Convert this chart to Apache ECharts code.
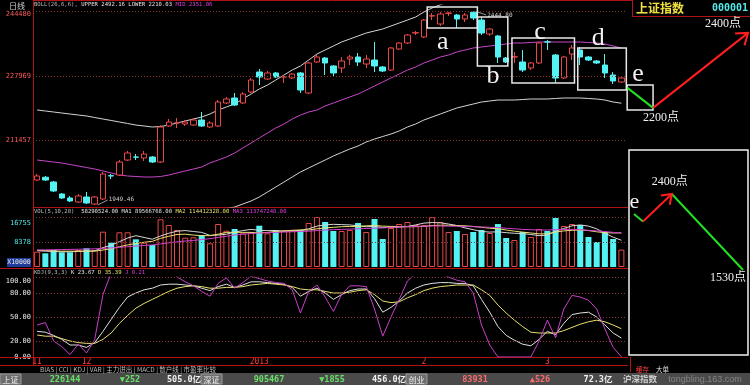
<!DOCTYPE html>
<html>
<head>
<meta charset="utf-8">
<script src="https://cdn.jsdelivr.net/npm/echarts@6.0.0/dist/echarts.min.js"></script>
<style>
html,body{margin:0;padding:0;background:#000;overflow:hidden;}
#main{width:750px;height:385px;}
</style>
</head>
<body>
<div id="main"></div>
<script>
// ================= DATA =================
const dates = [
'2012-11-23','2012-11-26','2012-11-27','2012-11-28','2012-11-29','2012-11-30',
'2012-12-03','2012-12-04','2012-12-05','2012-12-06','2012-12-07',
'2012-12-10','2012-12-11','2012-12-12','2012-12-13','2012-12-14',
'2012-12-17','2012-12-18','2012-12-19','2012-12-20','2012-12-21',
'2012-12-24','2012-12-25','2012-12-26','2012-12-27','2012-12-28','2012-12-31',
'2013-01-04','2013-01-07','2013-01-08','2013-01-09','2013-01-10','2013-01-11',
'2013-01-14','2013-01-15','2013-01-16','2013-01-17','2013-01-18',
'2013-01-21','2013-01-22','2013-01-23','2013-01-24','2013-01-25',
'2013-01-28','2013-01-29','2013-01-30','2013-01-31',
'2013-02-01','2013-02-04','2013-02-05','2013-02-06','2013-02-07','2013-02-08',
'2013-02-18','2013-02-19','2013-02-20','2013-02-21','2013-02-22',
'2013-02-25','2013-02-26','2013-02-27','2013-02-28',
'2013-03-01','2013-03-04','2013-03-05','2013-03-06','2013-03-07','2013-03-08',
'2013-03-11','2013-03-12','2013-03-13','2013-03-14'
];
// [open, close, low, high]
const candles = [
[2013.4,2023.7,2010.9,2028.8],[2020.5,2013.4,2010.9,2023.7],[2008.3,1985.3,1982.7,2010.9],[1977.6,1967.4,1964.8,1980.2],
[1967.4,1959.7,1957.1,1972.5],[1957.1,1972.5,1954.6,1977.6],[1969.9,1954.6,1952.0,1982.7],[1952.0,1969.9,1949.46,1972.5],
[1964.8,2028.8,1962.2,2033.9],[2024.5,2023.7,2016.0,2028.8],[2026.2,2059.5,2023.7,2064.6],[2064.6,2082.6,2062.1,2087.7],
[2072.3,2071.8,2064.6,2080.0],[2069.8,2080.0,2062.1,2087.7],[2072.3,2059.5,2057.0,2074.9],[2059.5,2149.1,2057.0,2154.2],
[2151.7,2161.9,2149.1,2169.6],[2159.4,2160.0,2146.6,2172.2],[2156.8,2161.9,2151.7,2167.0],[2154.2,2167.0,2151.7,2172.2],
[2167.0,2151.7,2149.1,2187.5],[2149.1,2159.4,2146.6,2164.5],[2151.7,2213.1,2149.1,2218.2],[2210.6,2220.8,2208.0,2226.0],
[2223.4,2205.4,2202.8,2236.2],[2210.6,2233.6,2208.0,2238.7],[2238.7,2269.4,2236.2,2274.6],[2289.9,2277.1,2256.6,2297.6],
[2272.0,2287.4,2269.4,2292.5],[2287.4,2277.1,2274.6,2289.9],[2277.1,2277.6,2261.8,2282.2],[2274.6,2284.8,2272.0,2287.4],
[2287.4,2243.8,2236.2,2289.9],[2236.2,2313.0,2233.6,2315.5],[2315.5,2328.3,2313.0,2333.4],[2325.8,2313.0,2282.2,2328.3],
[2305.3,2287.4,2277.1,2307.8],[2300.2,2318.1,2287.4,2328.3],[2323.2,2328.3,2307.8,2333.4],[2328.3,2315.5,2305.3,2338.6],
[2310.4,2323.2,2300.2,2333.4],[2320.6,2305.3,2289.9,2366.7],[2302.7,2292.5,2289.9,2305.3],[2295.0,2351.4,2292.5,2353.9],
[2348.8,2364.2,2346.2,2366.7],[2364.2,2384.6,2361.6,2387.2],[2389.8,2390.5,2384.6,2394.9],[2379.5,2423.0,2377.0,2425.6],
[2433.3,2434.0,2423.0,2441.0],[2412.8,2438.4,2407.7,2443.5],[2440.0,2441.0,2433.3,2444.0],[2435.8,2425.6,2402.6,2438.4],
[2425.6,2435.8,2417.9,2441.0],[2443.0,2428.2,2423.0,2444.8],[2423.0,2389.8,2384.6,2430.7],[2387.2,2400.0,2382.1,2402.6],
[2382.1,2328.3,2313.0,2384.6],[2325.8,2315.5,2313.0,2328.3],[2328.3,2329.0,2313.0,2341.1],[2315.5,2295.0,2289.9,2346.2],
[2300.2,2313.0,2295.0,2315.5],[2313.0,2364.2,2310.4,2366.7],[2367.0,2366.7,2346.2,2371.8],[2333.4,2274.6,2261.8,2336.0],
[2274.6,2328.3,2272.0,2330.9],[2336.0,2351.4,2320.6,2359.0],[2346.2,2328.3,2307.8,2353.9],[2328.3,2320.6,2318.1,2330.9],
[2318.1,2313.0,2310.4,2320.6],[2307.8,2287.4,2274.6,2336.0],[2282.2,2266.9,2259.2,2289.9],[2264.3,2274.6,2261.8,2277.1]
];
const bollUpper = [2192.6,2190.1,2187.5,2184.9,2182.4,2179.8,2177.3,2173.4,2169.6,2165.8,2161.9,2158.1,2154.2,2151.7,2149.1,2150.4,
2154.2,2159.4,2164.5,2169.6,2174.7,2182.4,2192.6,2200.3,2208.0,2220.8,2233.6,2246.4,2256.6,2269.4,2282.2,2295.0,2305.3,2320.6,
2336.0,2346.2,2356.5,2366.7,2374.4,2382.1,2389.8,2394.9,2400.0,2407.7,2415.3,2423.0,2430.7,2443.5,2453.8,2462,2470,2476,2481,
2486,2490,2493,2496,2497,2498,2499,2499,2500,2500,2500,2499,2498,2497,2496,2495,2494,2493,2492.16];
const bollMid = [2064.6,2062.1,2059.5,2057.0,2053.1,2049.3,2045.4,2041.6,2036.5,2031.4,2026.2,2023.7,2022.4,2021.1,2021.1,2022.4,
2026.2,2031.4,2036.5,2041.6,2046.7,2057.0,2064.6,2072.3,2082.6,2095.4,2108.2,2121.0,2133.8,2146.6,2156.8,2169.6,2179.8,2187.5,
2192.6,2202.9,2210.6,2218.2,2225.9,2233.6,2243.8,2254.1,2264.3,2274.6,2284.8,2295.0,2302.7,2313.0,2320.6,2328.3,2333.4,2341.1,
2346.2,2351.4,2353.9,2356.5,2359.0,2361.6,2364.2,2364.2,2365.4,2366.7,2366.7,2366.7,2366.7,2366.7,2366.7,2365.4,2364.2,2361.6,
2356.5,2351.06];
const bollLower = [1937,1935,1932,1929,1925,1921,1917,1912,1905,1899,1893,1890,1889,1890,1892,1894,1898,1903,1908,1913,1918,1926,
1934,1940,1944.3,1952.0,1959.7,1969.9,1982.7,1995.5,2008.3,2021.1,2033.9,2044.2,2054.4,2064.6,2074.9,2083.9,2092.8,2100.5,2110.8,
2118.4,2124.8,2131.2,2138.9,2149.1,2156.8,2167.0,2174.7,2182.4,2190.1,2197.8,2202.9,2208.0,2213.1,2215.7,2218.2,2218.2,2218.2,
2219.5,2220.8,2220.8,2220.8,2222.1,2223.4,2223.4,2223.4,2222.1,2220.8,2218.2,2213.1,2210.03];
// volume, x10000
const volumes = [5127,4591,5697,4926,4926,5697,6266,5697,11829,8143,11628,11628,9282,8143,7372,15984,14074,12399,9818,9952,
10723,7942,14409,12164,12734,11293,11628,13840,11293,12399,12164,12164,12399,14744,16755,15080,12064,12064,12399,14744,11729,
16085,9383,13069,14409,15080,14074,14074,16700,15080,11729,12064,11058,11729,12399,11393,14409,9718,9048,11729,10053,12734,
12064,16420,13739,14409,14074,10053,8378,11729,9383,5829];
const volMa5 = [5470,5300,5200,5100,5100,5200,5300,5400,6500,7300,8500,9700,10500,9900,9300,10400,11300,12000,12200,11900,
11600,10600,10700,11000,11700,12200,12600,12300,12200,12200,12000,12100,12300,12800,13700,14100,14300,14200,14100,13800,13500,
13600,13200,13300,13400,13600,14100,14700,14900,14800,14400,13900,13100,12500,11900,11700,11800,11500,11300,11200,10900,10500,
10700,12000,12900,13800,14100,13700,12800,11300,10000,8957];
const volMa10 = [5600,5500,5400,5300,5300,5300,5300,5300,5700,6100,6800,7400,7900,8300,8600,9600,10300,10900,11000,10700,10500,
10500,11000,11600,11600,11600,11600,11400,11600,11900,12100,12300,12400,12400,12800,13100,13300,13500,13600,13600,13800,13900,
13700,13600,13500,13500,13500,13600,13900,14000,14000,13900,13800,13600,13300,13000,12800,12400,12000,11700,11400,11100,11100,
11700,12100,12300,12400,12200,11800,11500,11400,11441];
const volMa20 = [5700,5750,5800,5850,5900,5950,6000,6100,6250,6400,6600,6800,7000,7200,7400,7750,8100,8400,8700,8900,9200,9500,
9900,10300,10700,11000,11200,11400,11500,11600,11700,11800,11900,12000,12200,12400,12500,12600,12700,12800,12900,13000,13100,
13300,13400,13500,13600,13700,13750,13750,13700,13650,13600,13500,13400,13300,13200,13000,12800,12600,12500,12400,12400,12500,
12600,12600,12500,12300,12100,11900,11600,11375];
const kdjK = [32,31,27,22,15,15,12,18,32,47,62,75,80,84,86,90,91,91,90,89,86,83,88,91,87,90,94,94,93,92,91,87,76,82,86,80,72,78,
83,85,85,73,56,62,70,80,86,90,92,93,93,92,92,89,72,56,38,27,21,16,14,22,32,28,42,53,55,56,50,40,30,23.67];
const kdjD = [27.5,26,26,23,20,18,17,17,22,30,42,52,61,67,72,77,82,86,88,89,88,86,86,87,87,88,90,91,92,91,90,88,85,84,84,82,80,
80,81,83,84,78,70,68,69,74,78,83,86,88,89,90,90,90,84,77,65,55,46,38,31,30,30,30,33,37,41,44,46,44,40,35.39];
const kdjJ = [40,43,20,13,3,16,5,22,78,105,115,120,118,115,112,118,110,100,94,89,82,76,92,99,86,93,101,98,95,93,92,84,55,82,90,
75,57,78,89,89,88,60,26,50,72,95,104,108,106,104,100,96,94,80,40,15,0,0,0,0,0,20,46,24,60,77,75,71,60,35,12,0.21];

const priceTickLabels = ['211457','227969','244480'];
const volTickLabels = ['8378','16755'];
const kdjTickLabels = ['0.00','20.00','50.00','80.00','100.00'];
const monthTickIdx = [0, 6, 27, 47, 62];
const monthTickText = ['11', '12', '2013', '2', '3'];

// hand-drawn forecast notes: [trading-day position, price]
const eLegDown = [[71.7, 2250], [74.85, 2198]];
const eLegUp = [[74.85, 2198], [86.4, 2390]];
const eBox = [[71.7, 2256.6], [74.85, 2192.6]];
// inset schematic: [step, price]
const insetPath = [[0, 2170], [1, 2086], [4.2, 2400], [12.1, 1530]];
// boxes a-d: [label, fromIdx, toIdx, highPrice, lowPrice, labelIdx, labelPrice]
const boxes = [
  ['a', 47.4, 53.5, 2456.3, 2402.6, 49.3, 2366.7],
  ['b', 53.5, 57.2, 2430.7, 2305.3, 55.4, 2279.7],
  ['c', 57.7, 65.3, 2376.9, 2261.8, 61.1, 2392.3],
  ['d', 65.7, 71.6, 2351.4, 2243.8, 68.2, 2375.7]
];

// ================= CHART =================
const chart = echarts.init(document.getElementById('main'), null, {renderer: 'canvas', width: 750, height: 385});
const mono = "'DejaVu Sans Mono', monospace";
const serif = "'Liberation Serif','DejaVu Serif','Noto Sans CJK SC',serif";
const cjk = "'Noto Sans CJK SC', sans-serif";
const UP = '#e84848', DOWN = '#54f2f2', FRAME = '#b01414', GRIDDOT = '#8a3434';
const dot = {color: GRIDDOT, type: [1, 2], width: 1};

const priceTickValues = priceTickLabels.map(s => Number(s) / 100);
const volTickValues = volTickLabels.map(Number);
const kdjTickValues = kdjTickLabels.map(Number);
const PMIN = 1944.32, PMAX = 2461.44;

function mkLine(vals) {
  return {silent: true, symbol: ['none', 'none'], label: {show: false}, lineStyle: dot,
          emphasis: {disabled: true}, data: vals.map(v => ({yAxis: v}))};
}
function lineSeries(xi, data, color, extra) {
  return Object.assign({type: 'line', xAxisIndex: xi, yAxisIndex: xi, data, symbol: 'none', silent: true,
    lineStyle: {color, width: 1}, z: 3}, extra || {});
}

const volData = volumes.map((v, i) => {
  const up = candles[i][1] >= candles[i][0];
  return {value: v, itemStyle: up ? {color: '#000', borderColor: UP, borderWidth: 1} : {color: DOWN, borderWidth: 0}};
});

const grids = [
  {left: 33, width: 592.5, top: 5, height: 202},
  {left: 33, width: 592.5, top: 217, height: 50},
  {left: 33, width: 592.5, top: 277, height: 80},
  {left: 625.5, width: 124.5, top: 5, height: 202},
  {left: 629, width: 119, top: 150.3, height: 218.4}
];

const labelBase = {fontFamily: mono, margin: 2};
const option = {
  backgroundColor: '#000',
  animation: false,
  grid: grids,
  xAxis: [
    {type: 'category', gridIndex: 0, data: dates, show: false},
    {type: 'category', gridIndex: 1, data: dates, show: false},
    {type: 'category', gridIndex: 2, data: dates, axisLine: {show: false}, axisTick: {show: false},
      axisLabel: {interval: (i) => monthTickIdx.indexOf(i) >= 0,
        formatter: (v, i) => { const k = monthTickIdx.indexOf(i); return k >= 0 ? monthTickText[k] : ''; },
        color: (v, i) => (monthTickIdx.indexOf(i) === 2 ? '#c8c8c8' : '#ff3c3c'),
        fontSize: 8, fontFamily: mono, margin: 1}},
    {type: 'value', gridIndex: 3, min: 71.5, max: 86.63, show: false},
    {type: 'value', gridIndex: 4, min: -0.55, max: 12.65, show: false}
  ],
  yAxis: [
    {type: 'value', gridIndex: 0, min: PMIN, max: PMAX, splitLine: {show: false}, axisLine: {show: false}, axisTick: {show: false},
      axisLabel: Object.assign({}, labelBase, {customValues: priceTickValues, fontSize: 7, color: '#ff5a5a',
        formatter: (v) => { const s = String(Math.round(v * 100)); return v >= Math.max(...priceTickValues) - 0.01 ? '{t|' + s + '}' : s; },
        rich: {t: {padding: [6, 0, 0, 0], fontSize: 7, fontFamily: mono, color: '#ff5a5a'}}})},
    {type: 'value', gridIndex: 1, min: 0, max: Math.max(...volTickValues), splitLine: {show: false}, axisLine: {show: false}, axisTick: {show: false},
      axisLabel: Object.assign({}, labelBase, {customValues: volTickValues, fontSize: 7, color: '#54e8e8',
        formatter: (v) => { const s = String(v); return v >= Math.max(...volTickValues) ? '{t|' + s + '}' : s; },
        rich: {t: {padding: [12, 0, 0, 0], fontSize: 7, fontFamily: mono, color: '#54e8e8'}}})},
    {type: 'value', gridIndex: 2, min: 0, max: 100, splitLine: {show: false}, axisLine: {show: false}, axisTick: {show: false},
      axisLabel: Object.assign({}, labelBase, {customValues: kdjTickValues, fontSize: 7, color: '#e8e8e8',
        formatter: (v) => { const s = v.toFixed(2); return v >= 100 ? '{t|' + s + '}' : s; },
        rich: {t: {padding: [8, 0, 0, 0], fontSize: 7, fontFamily: mono, color: '#e8e8e8'}}})},
    {type: 'value', gridIndex: 3, min: PMIN, max: PMAX, show: false},
    {type: 'value', gridIndex: 4, min: 400, max: 2900, show: false}
  ],
  series: [
    {type: 'candlestick', xAxisIndex: 0, yAxisIndex: 0, data: candles, barWidth: 6, silent: true, z: 4,
      itemStyle: {color: '#000', color0: DOWN, borderColor: UP, borderColor0: DOWN, borderWidth: 1},
      markLine: mkLine(priceTickValues)},
    lineSeries(0, bollUpper, '#d4d4d4'),
    lineSeries(0, bollMid, '#c848c8'),
    lineSeries(0, bollLower, '#d4d4d4'),
    {type: 'bar', xAxisIndex: 1, yAxisIndex: 1, data: volData, barWidth: 6, silent: true, z: 2, markLine: mkLine(volTickValues)},
    lineSeries(1, volMa5, '#d8d8d8'),
    lineSeries(1, volMa10, '#e8e070'),
    lineSeries(1, volMa20, '#d040d0'),
    lineSeries(2, kdjK, '#e0e0e0', {markLine: mkLine([20, 50, 80, 100])}),
    lineSeries(2, kdjD, '#e8e070'),
    lineSeries(2, kdjJ, '#c840c8'),
    lineSeries(3, eLegDown, '#22e022', {lineStyle: {color: '#22e022', width: 2}, z: 6,
      markArea: {silent: true, itemStyle: {color: 'rgba(0,0,0,0)', borderColor: '#e8e8e8', borderWidth: 1.5},
        data: [[{coord: eBox[0]}, {coord: eBox[1]}]]}}),
    lineSeries(3, eLegUp, '#ff1e1e', {lineStyle: {color: '#ff1e1e', width: 2}, z: 6}),
    lineSeries(4, insetPath.slice(0, 2), '#22e022', {lineStyle: {color: '#22e022', width: 2}, z: 6}),
    lineSeries(4, insetPath.slice(1, 3), '#ff1e1e', {lineStyle: {color: '#ff1e1e', width: 2}, z: 6}),
    lineSeries(4, insetPath.slice(2, 4), '#22e022', {lineStyle: {color: '#22e022', width: 2}, z: 6})
  ]
};
chart.setOption(option);

// ================= ANNOTATIONS / FRAME =================
const P = (k, pt) => chart.convertToPixel({xAxisIndex: k, yAxisIndex: k}, pt);
const c0 = P(0, [0, 2000])[0], c71 = P(0, [71, 2000])[0];
const step = (c71 - c0) / 71;
const xAt = (i) => c0 + i * step;
const yAt = (p) => P(0, [0, p])[1];

function ln(x1, y1, x2, y2, color, w, z) {
  return {type: 'line', silent: true, z: z || 1, shape: {x1, y1, x2, y2}, style: {stroke: color, lineWidth: w || 1}};
}
function txt(x, y, text, fill, font, align, z, extra) {
  return {type: 'text', silent: true, z: z || 10, x, y,
    style: Object.assign({text, fill, font, align: align || 'left', verticalAlign: 'middle'}, extra || {})};
}
function arrowHead(tip, from, len, spread) {
  const a = Math.atan2(from[1] - tip[1], from[0] - tip[0]);
  return [[tip[0] + len * Math.cos(a + spread), tip[1] + len * Math.sin(a + spread)], tip,
          [tip[0] + len * Math.cos(a - spread), tip[1] + len * Math.sin(a - spread)]];
}

const els = [];
// frame lines
els.push(ln(33.5, 0, 33.5, 366, FRAME));
els.push(ln(33, 0.5, 632, 0.5, FRAME));
els.push(ln(33, 207.5, 628, 207.5, FRAME));
els.push(ln(0, 268.5, 628, 268.5, FRAME));
els.push(ln(0, 357.5, 628, 357.5, FRAME));
els.push(ln(0, 365.5, 628, 365.5, FRAME));
els.push(ln(630.5, 357, 630.5, 372, FRAME));
// header box (top right)
els.push(ln(632.5, 0, 632.5, 16, FRAME));
els.push(ln(632, 16.5, 750, 16.5, FRAME));
els.push(txt(636, 8, '上证指数', '#f0e040', "bold 12px " + cjk));
els.push(txt(748, 8.5, '000001', '#54e8e8', "bold 10px " + mono, 'right'));
// left panel
els.push(txt(17, 5.5, '日线', '#d0d0d0', "8px " + cjk, 'center'));
els.push({type: 'rect', silent: true, z: 9, shape: {x: 7, y: 258, width: 24, height: 9}, style: {fill: '#1e3c9a'}});
els.push(txt(19, 262.5, 'X10000', '#e8e8e8', "6.5px " + mono, 'center'));
// panel titles
const tRich = {
  g: {fill: '#bdbdbd', font: "5.6px " + mono},
  w: {fill: '#e4e4e4', font: "5.6px " + mono},
  y: {fill: '#e8e070', font: "5.6px " + mono},
  m: {fill: '#e040e0', font: "5.6px " + mono}
};
els.push(txt(34, 4.5, '{g|BOLL(26,6,6),} {w|UPPER 2492.16} {w|LOWER 2210.03} {m|MID 2351.06}', '#ccc', "5.6px " + mono, 'left', 10, {rich: tRich}));
els.push(txt(34, 212, '{g|VOL(5,10,20)}  {w|58290524.00} {w|MA1 89566768.00} {y|MA2 114412328.00} {m|MA3 113747248.00}', '#ccc', "5.6px " + mono, 'left', 10, {rich: tRich}));
els.push(txt(34, 272.5, '{g|KDJ(9,3,3)} {w|K 23.67} {y|D 35.39} {m|J 0.21}', '#ccc', "5.6px " + mono, 'left', 10, {rich: tRich}));

// extreme price labels with leader lines
const hi = P(0, [53, 2444.80]);
els.push(ln(hi[0] + 3, hi[1], hi[0] + 13, hi[1] + 3.5, '#9a9a9a', 1, 8));
els.push(txt(hi[0] + 14, hi[1] + 3.5, '2444.80', '#d0d0d0', "6px " + mono));
const lo = P(0, [7, 1949.46]);
els.push(ln(lo[0] + 3, lo[1], lo[0] + 13, lo[1] - 5, '#9a9a9a', 1, 8));
els.push(txt(lo[0] + 14, lo[1] - 5.5, '1949.46', '#d0d0d0', "6px " + mono));

// boxes a-d
boxes.forEach(b => {
  const x1 = xAt(b[1]), x2 = xAt(b[2]), y1 = yAt(b[3]), y2 = yAt(b[4]);
  els.push({type: 'rect', silent: true, z: 12, shape: {x: x1, y: y1, width: x2 - x1, height: y2 - y1},
    style: {fill: null, stroke: '#e8e8e8', lineWidth: 1.5}});
  els.push(txt(xAt(b[5]), yAt(b[6]), b[0], '#f2f2f2', "26px " + serif, 'center', 12));
});
// e label
const eL = P(3, [73.02, 2284.8]);
els.push(txt(eL[0], eL[1], 'e', '#f2f2f2', "26px " + serif, 'center', 12));
// main forecast labels & arrow head
const pBot = P(3, eLegDown[1]);
els.push(txt(pBot[0] + 8, pBot[1] + 9.5, '2200点', '#f0f0f0', "12px " + serif, 'center', 12));
const tip = P(3, eLegUp[1]), tail = P(3, eLegUp[0]);
els.push({type: 'polyline', silent: true, z: 12, shape: {points: arrowHead(tip, tail, 13, 0.62)},
  style: {stroke: '#ff1e1e', lineWidth: 2, fill: null}});
els.push(txt(tip[0] - 25, tip[1] - 9.5, '2400点', '#f0f0f0', "12px " + serif, 'center', 12));

// inset box
els.push({type: 'rect', silent: true, z: 0, shape: {x: 629, y: 150, width: 119, height: 205},
  style: {fill: '#000', stroke: '#f0f0f0', lineWidth: 1.5}});
const iS = P(4, insetPath[0]), iT = P(4, insetPath[2]), iB = P(4, insetPath[1]), iE = P(4, insetPath[3]);
els.push(txt(iS[0] + 0.5, iS[1] - 12, 'e', '#f2f2f2', "22px " + serif, 'center', 12));
els.push({type: 'polyline', silent: true, z: 12, shape: {points: arrowHead(iT, iB, 11, 0.62)},
  style: {stroke: '#ff1e1e', lineWidth: 2, fill: null}});
els.push(txt(iT[0] - 2, iT[1] - 12, '2400点', '#f0f0f0', "12px " + serif, 'center', 12));
els.push(txt(iE[0] - 15, iE[1] + 8, '1530点', '#f0f0f0', "12px " + serif, 'center', 12));

// tabs row
els.push(txt(40, 369.5, 'BIAS | CCI | KDJ | VAR | 主力进出 | MACD | 散户线 | 市盈率比较', '#bdbdbd', "6.5px " + cjk));
els.push(txt(636, 369.5, '缓存', '#ff4040', "6.5px " + cjk));
els.push(txt(656, 369.5, '大单', '#e0e0e0', "6.5px " + cjk));

// status bar
els.push({type: 'rect', silent: true, z: 1, shape: {x: 0, y: 373, width: 750, height: 12}, style: {fill: '#4a4a4a'}});
[[0, '上证'], [201, '深证'], [406, '创业']].forEach(b => {
  els.push({type: 'rect', silent: true, z: 2, shape: {x: b[0], y: 374, width: 21, height: 10}, style: {fill: '#6e6e6e', stroke: '#9a9a9a', lineWidth: 1}});
  els.push(txt(b[0] + 10.5, 379.5, b[1], '#f0f0f0', "8px " + cjk, 'center'));
});
const sb = [
  [65, '226144', '#66e066'], [130, '▼252', '#66e066'], [184, '505.0亿', '#f0f0f0'],
  [269, '905467', '#66e066'], [332, '▼1855', '#66e066'], [389, '456.0亿', '#f0f0f0'],
  [475, '83931', '#ff6a6a'], [540, '▲526', '#ff6a6a'], [598, '72.3亿', '#f0f0f0'],
  [640, '沪深指数', '#d0d0d0']
];
sb.forEach(s => els.push(txt(s[0], 379.5, s[1], s[2], "bold 8.5px " + mono + ",'Noto Sans CJK SC'", 'center')));
els.push(txt(705, 379.5, 'tongbling.163.com', 'rgba(200,200,200,0.45)', "9px 'Liberation Sans'", 'center'));

chart.setOption({graphic: {elements: els}});
</script>
</body>
</html>
